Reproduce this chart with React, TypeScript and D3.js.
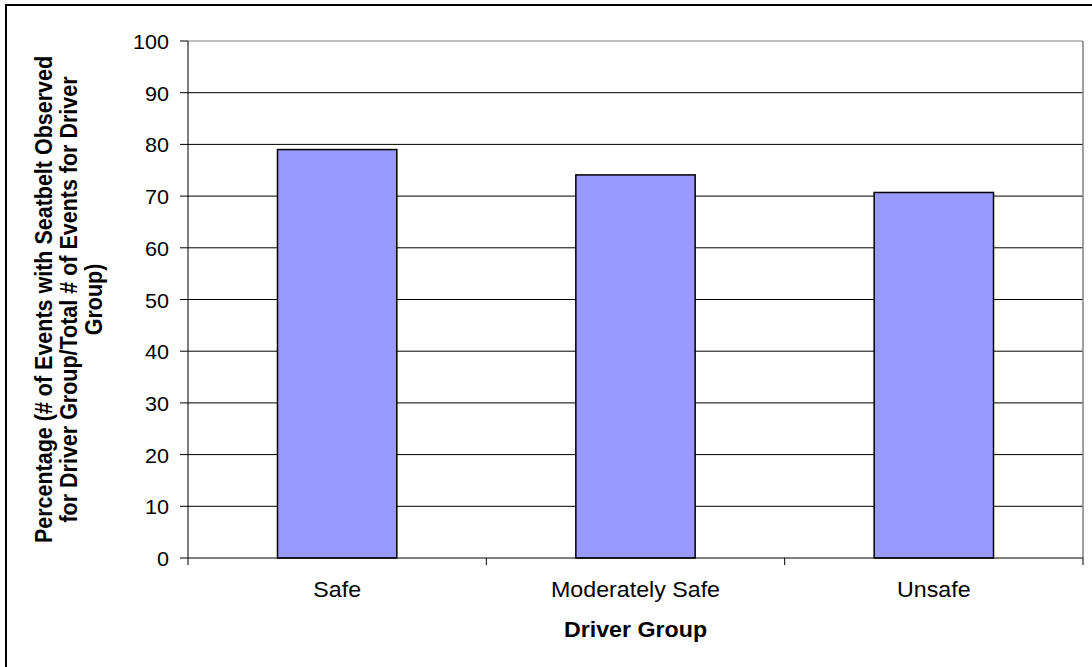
import React from "react";
import * as d3 from "d3";

const categories = ["Safe", "Moderately Safe", "Unsafe"];
const values = [79, 74.1, 70.7];
const yTicks = [0, 10, 20, 30, 40, 50, 60, 70, 80, 90, 100];
const yTitleLines = [
  "Percentage (# of Events with Seatbelt Observed",
  "for Driver Group/Total # of Events for Driver",
  "Group)",
];
const xTitle = "Driver Group";

const W = 1092;
const H = 667;
const left = 188;
const right = 1083;
const top = 41;
const bottom = 558;
const FONT = "Liberation Sans, Arial, sans-serif";
const SX = 1.08;

export default function App() {
  const x = d3.scaleBand<string>().domain(categories).range([left, right]).paddingInner(0).paddingOuter(0);
  const y = d3.scaleLinear().domain([0, 100]).range([bottom, top]);
  const bw = x.bandwidth() * 0.4;

  return (
    <svg width={W} height={H} style={{ position: "absolute", left: 0, top: 0, background: "#fff" }}>
      <rect x={6} y={5} width={W + 20} height={H + 20} fill="#fff" stroke="#000" strokeWidth={2} />
      {yTicks.filter((t) => t > 0).map((t) => (
        <line key={t} x1={left} x2={right} y1={y(t)} y2={y(t)} stroke={t === 100 ? "#808080" : "#000"} strokeWidth={1} />
      ))}
      <line x1={right} x2={right} y1={top} y2={bottom} stroke="#808080" strokeWidth={1.5} />
      {categories.map((c, i) => (
        <rect
          key={c}
          x={(x(c) as number) + (x.bandwidth() - bw) / 2}
          y={y(values[i])}
          width={bw}
          height={y(0) - y(values[i])}
          fill="#9999FF"
          stroke="#000"
          strokeWidth={1.5}
        />
      ))}
      <line x1={left} x2={left} y1={top} y2={bottom + 7} stroke="#000" strokeWidth={1} />
      <line x1={left} x2={right} y1={bottom} y2={bottom} stroke="#000" strokeWidth={1} />
      {yTicks.map((t) => (
        <g key={t}>
          <line x1={left - 8} x2={left} y1={y(t)} y2={y(t)} stroke="#000" />
          <text
            transform={`translate(169,${y(t) + 8}) scale(${SX},1)`}
            textAnchor="end"
            fontFamily={FONT}
            fontSize={20}
            fill="#000"
          >
            {t}
          </text>
        </g>
      ))}
      {categories.map((c, i) => (
        <g key={c}>
          {i > 0 && <line x1={x(c)} x2={x(c)} y1={bottom} y2={bottom + 7} stroke="#000" />}
          <text
            transform={`translate(${(x(c) as number) + x.bandwidth() / 2},597) scale(${SX},1)`}
            textAnchor="middle"
            fontFamily={FONT}
            fontSize={21.5}
            fill="#000"
          >
            {c}
          </text>
        </g>
      ))}
      <line x1={right} x2={right} y1={bottom} y2={bottom + 7} stroke="#000" />
      <text
        transform={`translate(${(left + right) / 2},637) scale(${SX},1)`}
        textAnchor="middle"
        fontFamily={FONT}
        fontSize={21.5}
        fontWeight="bold"
        fill="#000"
      >
        {xTitle}
      </text>
      {yTitleLines.map((l, i) => (
        <text
          key={i}
          transform={`translate(${52 + i * 25},${(top + bottom) / 2}) scale(${SX},1) rotate(-90)`}
          textAnchor="middle"
          fontFamily={FONT}
          fontSize={21.5}
          fontWeight="bold"
          fill="#000"
        >
          {l}
        </text>
      ))}
    </svg>
  );
}
